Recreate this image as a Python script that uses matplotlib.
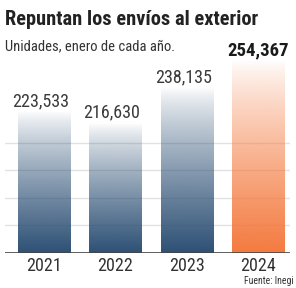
import matplotlib.pyplot as plt
import numpy as np
from matplotlib.colors import to_rgb

years = ["2021", "2022", "2023", "2024"]
units = [223533, 216630, 238135, 254367]
value_labels = ["223,533", "216,630", "238,135", "254,367"]

BLUE = "#2d5075"
ORANGE = "#f47a3f"
FONT = ["Roboto Condensed", "Lato", "DejaVu Sans"]

plt.rcParams["font.family"] = FONT

fig = plt.figure(figsize=(2.96, 2.88), dpi=100)
ax = fig.add_axes([5 / 296, 35 / 288, 285 / 296, 213 / 288])

x = np.arange(len(years))
bar_width = 0.73
y_min, y_max = 138000, 267000
ax.set_xlim(-0.55, 3.45)
ax.set_ylim(y_min, y_max)

# grid lines
for g in np.arange(155000, 220000, 16500):
    ax.axhline(g, color="#e2e2e2", lw=1, zorder=0)

# bars with vertical fade (transparent at top, solid at bottom)
ramp = np.linspace(0, 1, 256) ** 0.8
for i, value in enumerate(units):
    color = ORANGE if years[i] == "2024" else BLUE
    rgba = np.zeros((256, 1, 4))
    rgba[:, 0, :3] = to_rgb(color)
    rgba[:, 0, 3] = ramp
    ax.imshow(
        rgba,
        extent=[x[i] - bar_width / 2, x[i] + bar_width / 2, y_min, value],
        origin="upper",
        aspect="auto",
        interpolation="bilinear",
        zorder=2,
    )
    is_last = i == len(units) - 1
    ax.text(
        x[i] - (0 if is_last else 0.05), value + 800, value_labels[i],
        ha="center", va="bottom",
        fontsize=13.5 if is_last else 13,
        fontweight="bold" if is_last else "normal",
        color="#1a1a1a" if is_last else "#3a3a3a",
        zorder=3,
    )

ax.axhline(y_min, color="#444444", lw=1.2, zorder=3)
ax.set_xticks(x)
ax.set_xticklabels(years, fontsize=13, color="#333333")
ax.tick_params(axis="x", length=0, pad=3)
ax.set_yticks([])
for side in ["top", "right", "left", "bottom"]:
    ax.spines[side].set_visible(False)
ax.set_facecolor("none")

fig.text(5 / 296, 1 - 10 / 288, "Repuntan los envíos al exterior",
         fontsize=14.7, fontweight="bold", color="#222222",
         ha="left", va="top")
fig.text(5 / 296, 1 - 39 / 288, "Unidades, enero de cada año.",
         fontsize=10.5, color="#333333", ha="left", va="top")
fig.text(294 / 296, 1 - 276 / 288, "Fuente: Inegi",
         fontsize=7, color="#333333", ha="right", va="top")

fig.savefig("out.png", dpi=100)
